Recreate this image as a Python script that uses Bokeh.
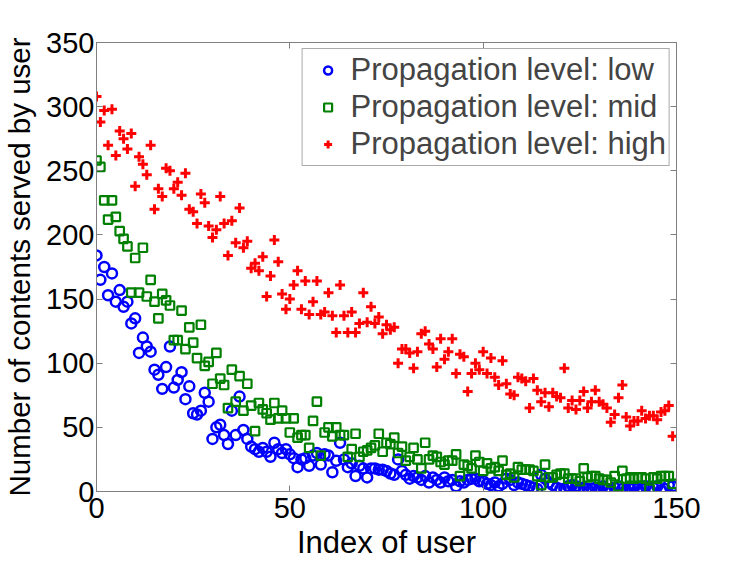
from bokeh.plotting import figure
from bokeh.models import ColumnDataSource, Range1d, FixedTicker, LinearAxis, Legend, LegendItem
from bokeh.embed import file_html
from bokeh.resources import INLINE

user_index = list(range(150))

served_low = [
    184, 165, 175, 153, 170, 148, 157, 144, 148, 131,
    135, 108, 120, 113, 109, 95, 91, 80, 97, 113,
    81, 87, 93, 72, 82, 61, 60, 63, 77, 70,
    41, 50, 52, 44, 37, 63, 44, 74, 48, 41,
    35, 33, 31, 34, 31, 27, 38, 33, 30, 33,
    29, 26, 19, 25, 26, 20, 28, 30, 21, 29,
    28, 15, 24, 38, 25, 19, 22, 12, 20, 18,
    11, 18, 18, 17, 17, 16, 14, 13, 25, 16,
    13, 10, 12, 11, 9, 12, 7, 11, 9, 7,
    11, 8, 9, 4, 8, 7, 9, 10, 10, 8,
    8, 6, 5, 7, 4, 6, 10, 9, 5, 7,
    6, 5, 4, 3, 2, 13, 10, 7, 5, 3,
    2, 2, 4, 5, 4, 3, 3, 2, 2, 3,
    2, 4, 2, 1, 3, 4, 2, 1, 2, 3,
    2, 2, 4, 2, 3, 4, 1, 2, 5, 4,
]

served_mid = [
    258, 253, 227, 212, 227, 214, 203, 197, 191, 155,
    182, 155, 190, 152, 165, 148, 135, 154, 149, 145,
    118, 118, 141, 111, 128, 116, 104, 130, 98, 101,
    84, 108, 88, 83, 65, 95, 70, 90, 63, 84,
    67, 47, 69, 64, 61, 56, 69, 57, 63, 57,
    46, 57, 42, 44, 44, 34, 55, 70, 28, 46,
    50, 43, 50, 44, 44, 27, 33, 45, 27, 31,
    32, 34, 36, 45, 31, 38, 37, 42, 30, 35,
    24, 27, 34, 25, 18, 38, 25, 28, 27, 23,
    21, 24, 24, 29, 12, 21, 20, 18, 28, 23,
    16, 22, 18, 19, 16, 24, 13, 14, 11, 19,
    17, 17, 17, 16, 12, 5, 21, 11, 11, 13,
    14, 14, 10, 10, 10, 8, 18, 11, 12, 12,
    10, 9, 9, 7, 12, 4, 16, 10, 11, 10,
    11, 11, 10, 2, 11, 10, 12, 12, 12, 6,
]

served_high = [
    308, 288, 297, 270, 298, 262, 281, 275, 267, 279,
    238, 261, 255, 247, 270, 220, 236, 230, 252, 250,
    236, 241, 231, 248, 220, 218, 209, 232, 225, 207,
    198, 204, 230, 209, 184, 211, 194, 221, 190, 195,
    174, 178, 172, 183, 152, 168, 196, 179, 154, 142,
    150, 161, 172, 142, 164, 138, 148, 164, 138, 140,
    155, 137, 124, 161, 137, 124, 140, 124, 131, 155,
    132, 144, 131, 136, 123, 130, 126, 128, 100, 111,
    111, 108, 96, 109, 123, 125, 115, 111, 97, 119,
    103, 109, 119, 92, 107, 105, 78, 92, 100, 95,
    109, 92, 104, 89, 83, 102, 84, 76, 75, 89,
    88, 86, 65, 88, 79, 70, 77, 66, 77, 74,
    73, 96, 65, 71, 64, 71, 78, 65, 70, 79,
    70, 68, 65, 54, 60, 73, 83, 58, 51, 55,
    55, 63, 57, 59, 59, 56, 62, 63, 67, 43,
]

legend_labels = ["Propagation level: low", "Propagation level: mid", "Propagation level: high"]
x_ticks = [0, 50, 100, 150]
y_ticks = [0, 50, 100, 150, 200, 250, 300, 350]

FONT = "Liberation Sans"
TICK_FS = "29px"
FRAME_GRAY = "#808080"

p = figure(
    frame_width=580, frame_height=449,
    min_border_left=89, min_border_top=42, min_border_right=62, min_border_bottom=62,
    output_backend="svg", toolbar_location=None,
    x_range=Range1d(0, 150), y_range=Range1d(0, 350),
)
p.background_fill_color = "white"
p.border_fill_color = "white"
p.outline_line_color = FRAME_GRAY
p.outline_line_width = 1
p.xgrid.visible = False
p.ygrid.visible = False

src = ColumnDataSource(dict(x=user_index, low=served_low, mid=served_mid, high=served_high))

r_low = p.scatter("x", "low", source=src, marker="circle", size=10, fill_color=None,
                  line_color="#0000ff", line_width=2.5)
r_mid = p.scatter("x", "mid", source=src, marker="square", size=8.5, fill_color=None,
                  line_color="#008000", line_width=2.2)
r_high = p.scatter("x", "high", source=src, marker="cross", size=10,
                   line_color="#ff0000", line_width=3)

for ax in (p.xaxis[0], p.yaxis[0]):
    ax.axis_line_color = FRAME_GRAY
    ax.major_tick_line_color = FRAME_GRAY
    ax.major_tick_in = 6
    ax.major_tick_out = 0
    ax.minor_tick_line_color = None
    ax.major_label_text_font = FONT
    ax.major_label_text_font_size = TICK_FS
    ax.major_label_text_color = "black"
    ax.axis_label_text_font = FONT
    ax.axis_label_text_font_style = "normal"
    ax.axis_label_text_color = "black"

p.xaxis[0].axis_label_text_font_size = "31px"
p.yaxis[0].axis_label_text_font_size = "29.5px"
p.xaxis[0].ticker = FixedTicker(ticks=x_ticks)
p.yaxis[0].ticker = FixedTicker(ticks=y_ticks)
p.xaxis[0].axis_label = "Index of user"
p.yaxis[0].axis_label = "Number of contents served by user"
p.xaxis[0].major_label_standoff = 6
p.xaxis[0].axis_label_standoff = 4
p.yaxis[0].major_label_standoff = 2
p.yaxis[0].axis_label_standoff = 7

ax_top = LinearAxis(ticker=FixedTicker(ticks=x_ticks))
ax_right = LinearAxis(ticker=FixedTicker(ticks=y_ticks))
for ax in (ax_top, ax_right):
    ax.axis_line_color = FRAME_GRAY
    ax.major_tick_line_color = FRAME_GRAY
    ax.major_tick_in = 6
    ax.major_tick_out = 0
    ax.minor_tick_line_color = None
    ax.major_label_text_font_size = "0px"
    ax.major_label_text_color = None
    ax.major_label_standoff = 0
p.add_layout(ax_top, "above")
p.add_layout(ax_right, "right")

legend = Legend(items=[
    LegendItem(label=legend_labels[0], renderers=[r_low]),
    LegendItem(label=legend_labels[1], renderers=[r_mid]),
    LegendItem(label=legend_labels[2], renderers=[r_high]),
])
legend.location = "top_right"
legend.margin = 6
legend.padding = 3
legend.spacing = 1
legend.label_text_font = FONT
legend.label_text_font_size = "31px"
legend.label_standoff = 1
legend.glyph_width = 44
legend.glyph_height = 20
legend.border_line_color = "#555555"
legend.border_line_width = 1
legend.background_fill_color = "white"
legend.background_fill_alpha = 1.0
p.add_layout(legend)

open("out.html", "w").write(file_html(p, INLINE))
